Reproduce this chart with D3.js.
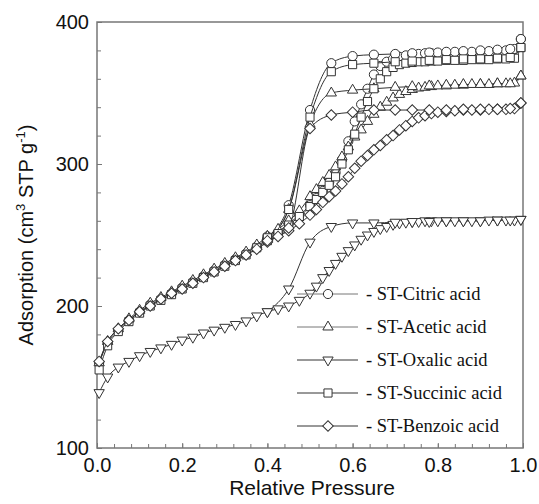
<!DOCTYPE html>
<html>
<head>
<meta charset="utf-8">
<script src="https://cdn.jsdelivr.net/npm/d3@7"></script>
<style>
  body { margin: 0; background: #fff; }
  svg { display: block; }
</style>
</head>
<body>
<svg id="chart" width="539" height="504"></svg>
<script>
// relative pressure grid, adsorption branch (up) and desorption branch (down)
const adsP = [0.005, 0.025, 0.05, 0.075, 0.1, 0.125, 0.15, 0.175, 0.2, 0.225,
  0.25, 0.275, 0.3, 0.325, 0.35, 0.375, 0.4, 0.425, 0.45, 0.475,
  0.5, 0.515, 0.53, 0.545, 0.56, 0.575, 0.59, 0.605, 0.62, 0.635,
  0.65, 0.665, 0.68, 0.695, 0.71, 0.725, 0.74, 0.755, 0.77, 0.785,
  0.8, 0.82, 0.84, 0.86, 0.88, 0.9, 0.92, 0.94, 0.96, 0.98, 0.995];
const desP = [0.995, 0.97, 0.94, 0.9, 0.86, 0.82, 0.78, 0.74, 0.7, 0.65, 0.6, 0.55, 0.5, 0.45, 0.4];

const citricAds = [160, 174, 183, 190, 196, 201, 205, 209, 213, 217,
  221, 225, 229, 233, 237, 242, 247, 252, 258, 264,
  271, 276, 281, 287, 294, 303, 316, 330, 342, 353,
  363, 369, 372, 374, 375.5, 376.5, 377, 377.5, 378, 378,
  378.5, 378.5, 379, 379, 379, 379.5, 379.5, 380, 380, 381, 388];
const citricDes = [388, 381, 380.5, 380, 379.5, 379, 378.5, 378, 377.5, 377, 376, 371, 338, 271, 249];

const aceticAds = [160, 175, 184, 191, 197, 202, 206, 210, 214, 218,
  222, 226, 230, 234, 238, 243, 249, 254, 260, 267,
  277, 282, 287, 292, 298, 305, 312, 319, 324, 330,
  335, 340, 343.5, 346.5, 349, 351, 352.5, 353.5, 354, 354.5,
  355, 355, 355.5, 355.5, 356, 356, 356, 356.5, 356.5, 357, 362];
const aceticDes = [362, 356.5, 356.5, 356, 356, 355.5, 355, 354.5, 354, 353, 352, 350, 328, 268, 249];

const oxalicAds = [139, 150, 157, 161, 165, 168, 170.5, 173, 176, 178,
  181, 183, 185, 187, 189.5, 193, 196, 198, 200, 204,
  209, 214, 220, 225, 230, 235, 239, 243, 247, 250,
  252.5, 254.5, 256, 257.5, 258.5, 259, 259.5, 259.5, 260, 260,
  260, 260, 260, 260, 260, 260, 260.5, 260.5, 260.5, 260.5, 261];
const oxalicDes = [261, 260.5, 260.5, 260, 260, 260, 259.5, 259.5, 259, 258.5, 258.5, 256, 245, 212, 196];

const succinicAds = [155, 172, 182, 189, 195, 200, 204, 208, 212, 216,
  220, 224, 228, 232, 236, 241, 246, 251, 257, 263,
  270, 275, 280, 285, 291, 300, 310, 321, 333, 344,
  353, 360, 365, 368, 370, 371, 371.5, 372, 372, 372.5,
  372.5, 373, 373, 373, 373.5, 373.5, 373.5, 374, 374, 374.5, 382];
const succinicDes = [382, 375, 374.5, 374, 374, 373.5, 373, 372.5, 372, 371, 370, 365, 333, 268, 248];

const benzoicAds = [161, 175, 184, 190, 196, 200, 205, 209, 212, 216,
  220, 224, 228, 232, 236, 240, 245, 249, 253, 258,
  264, 268, 273, 277, 281, 286, 291, 297, 302, 306,
  310, 313, 317, 320, 324, 327, 330, 332.5, 334, 335.5,
  336.5, 337, 337.5, 338, 338, 338, 338.5, 338.5, 338.5, 339, 343];
const benzoicDes = [343, 339, 338.5, 338.5, 338.5, 338, 338, 338, 338, 338, 336.5, 334.5, 325, 255, 246];

const seriesNames = ["- ST-Citric acid", "- ST-Acetic acid", "- ST-Oxalic acid", "- ST-Succinic acid", "- ST-Benzoic acid"];
const markerTypes = ["circle", "triangle", "triangleDown", "square", "diamond"];
const adsValues = [citricAds, aceticAds, oxalicAds, succinicAds, benzoicAds];
const desValues = [citricDes, aceticDes, oxalicDes, succinicDes, benzoicDes];

const xTicks = [0, 0.2, 0.4, 0.6, 0.8, 1.0];
const xMinor = d3.range(0, 25).map(i => i * 0.04);
const yTicks = [100, 200, 300, 400];
const yMinor = d3.range(100, 401, 20);

const W = 539, H = 504;
const margin = {top: 22, right: 16, bottom: 56, left: 97};
const iw = W - margin.left - margin.right;
const ih = H - margin.top - margin.bottom;

const svg = d3.select("#chart");
const g = svg.append("g").attr("transform", `translate(${margin.left},${margin.top})`);

const x = d3.scaleLinear().domain([0, 1]).range([0, iw]);
const y = d3.scaleLinear().domain([100, 400]).range([ih, 0]);

const LINE = "#333";
const FRAME = "#777";

// axes, ticks pointing inward
const xAxis = g.append("g").attr("transform", `translate(0,${ih})`)
  .call(d3.axisBottom(x).tickValues(xTicks).tickFormat(d3.format(".1f")).tickSize(-5).tickPadding(10));
const xAxisMinor = g.append("g").attr("transform", `translate(0,${ih})`)
  .call(d3.axisBottom(x).tickValues(xMinor).tickFormat("").tickSize(-4));
const yAxis = g.append("g")
  .call(d3.axisLeft(y).tickValues(yTicks).tickFormat(d3.format("d")).tickSize(-5).tickPadding(8));
const yAxisMinor = g.append("g")
  .call(d3.axisLeft(y).tickValues(yMinor).tickFormat("").tickSize(-4));

[xAxis, xAxisMinor, yAxis, yAxisMinor].forEach(a => {
  a.select(".domain").remove();
  a.selectAll("line").attr("stroke", FRAME).attr("stroke-width", 1);
  a.selectAll("text")
    .attr("font-family", "'Liberation Sans', Arial, sans-serif")
    .attr("font-size", 20)
    .attr("fill", "#111");
});

g.append("rect")
  .attr("width", iw).attr("height", ih)
  .attr("fill", "none").attr("stroke", FRAME).attr("stroke-width", 1.5);

// axis titles
svg.append("text")
  .attr("x", margin.left + iw / 2 + 2).attr("y", 495)
  .attr("text-anchor", "middle")
  .attr("font-family", "'Liberation Sans', Arial, sans-serif")
  .attr("font-size", 21).attr("fill", "#111")
  .text("Relative Pressure");

const yTitle = svg.append("text")
  .attr("transform", `translate(33,${margin.top + ih / 2}) rotate(-90)`)
  .attr("text-anchor", "middle")
  .attr("font-family", "'Liberation Sans', Arial, sans-serif")
  .attr("font-size", 20).attr("fill", "#111");
yTitle.append("tspan").text("Adsorption (cm");
yTitle.append("tspan").attr("dy", -8).attr("font-size", 13).text("3");
yTitle.append("tspan").attr("dy", 8).text(" STP g");
yTitle.append("tspan").attr("dy", -8).attr("font-size", 13).text("-1");
yTitle.append("tspan").attr("dy", 8).text(")");

// marker shapes
function markerPath(type) {
  if (type === "circle") return d3.symbol(d3.symbolCircle, 66)();
  if (type === "triangle" || type === "triangleDown") return d3.symbol(d3.symbolTriangle, 46)();
  if (type === "square") return d3.symbol(d3.symbolSquare, 66)();
  return d3.symbol(d3.symbolSquare, 56)();
}
function markerRotate(type) {
  if (type === "triangleDown") return 180;
  if (type === "diamond") return 45;
  return 0;
}

const line = d3.line().x(d => x(d[0])).y(d => y(d[1])).curve(d3.curveMonotoneX);

function drawMarkers(group, pts, type) {
  group.selectAll(null).data(pts).join("path")
    .attr("d", markerPath(type))
    .attr("transform", d => `translate(${x(d[0])},${y(d[1])}) rotate(${markerRotate(type)})`)
    .attr("fill", "#fff")
    .attr("stroke", LINE)
    .attr("stroke-width", 1);
}

const plot = g.append("g");
seriesNames.forEach((name, i) => {
  const ads = adsP.map((p, k) => [p, adsValues[i][k]]);
  const des = desP.map((p, k) => [p, desValues[i][k]]).sort((a, b) => a[0] - b[0]);
  const sg = plot.append("g");
  sg.append("path").attr("d", line(ads)).attr("fill", "none").attr("stroke", LINE).attr("stroke-width", 1);
  sg.append("path").attr("d", line(des)).attr("fill", "none").attr("stroke", LINE).attr("stroke-width", 1);
  drawMarkers(sg, ads, markerTypes[i]);
  drawMarkers(sg, des, markerTypes[i]);
});

// legend
const legend = g.append("g").attr("transform", `translate(${297 - margin.left},${294 - margin.top})`);
seriesNames.forEach((name, i) => {
  const row = legend.append("g").attr("transform", `translate(0,${i * 33})`);
  row.append("line").attr("x1", 0).attr("x2", 61).attr("y1", 0).attr("y2", 0)
    .attr("stroke", i < 2 ? "#777" : LINE).attr("stroke-width", 1);
  row.append("path")
    .attr("d", markerPath(markerTypes[i]))
    .attr("transform", `translate(31,0) rotate(${markerRotate(markerTypes[i])})`)
    .attr("fill", "#fff").attr("stroke", LINE).attr("stroke-width", 1);
  row.append("text")
    .attr("x", 69).attr("y", 0).attr("dy", "0.35em")
    .attr("font-family", "'Liberation Serif', 'Times New Roman', serif")
    .attr("font-size", 18.5).attr("fill", "#111")
    .text(name);
});
</script>
</body>
</html>
